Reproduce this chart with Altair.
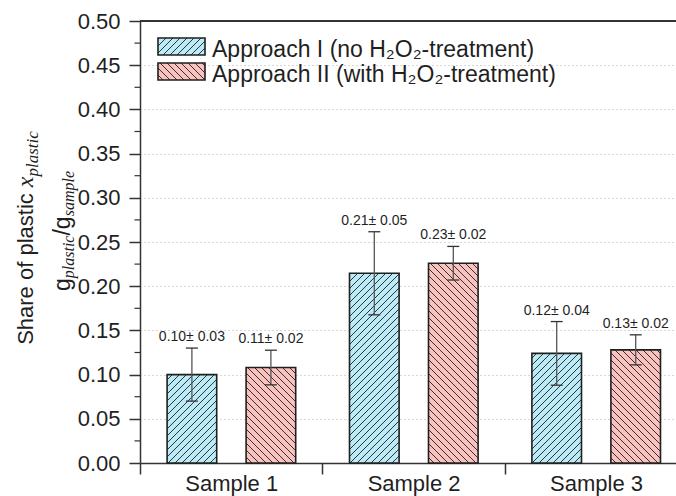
import json
import math

import altair as alt
import pandas as pd

# ---- data -------------------------------------------------------------
samples = ["Sample 1", "Sample 2", "Sample 3"]
approaches = ["Approach I (no H₂O₂-treatment)", "Approach II (with H₂O₂-treatment)"]
share_approach_1 = [0.100, 0.2146, 0.124]
error_approach_1 = [0.030, 0.047, 0.036]
share_approach_2 = [0.108, 0.226, 0.128]
error_approach_2 = [0.0196, 0.019, 0.017]
y_major_ticks = [0.00, 0.05, 0.10, 0.15, 0.20, 0.25, 0.30, 0.35, 0.40, 0.45, 0.50]

# ---- styling / layout -------------------------------------------------
fills = ["#BCEBF8", "#FAC2BF"]
hatch_dirs = [1, -1]           # "/" for approach I, "\" for approach II
INK = "#1f1f1f"
AXIS = "#333333"
SANS = "Liberation Sans"
SERIF = "Liberation Serif"

W, H = 536, 442                 # plot area in px
BAND = 182.4                    # px per sample slot
X_LO = -0.5
X_HI = X_LO + W / BAND
Y_HI = 0.5
VPX = H / Y_HI                  # px per unit of share
GROUP_OFFSETS = [-39.3, 39.7]   # bar centre offset inside a slot (px)
BAR_PX = 49.6
CAP_PX = 6.0
HATCH_PITCH = 7.0


def to_x(px):
    return X_LO + px / BAND


def to_y(py_up):
    return py_up / VPX


def hatch(x0, x1, y0, y1, d, pitch=HATCH_PITCH):
    """45-degree hatch segments clipped to a rectangle (px, y pointing up)."""
    segs = []
    if d > 0:  # Y = X + c
        kmin = math.ceil((y0 - x1) / pitch)
        kmax = math.floor((y1 - x0) / pitch)
        for k in range(kmin, kmax + 1):
            c = k * pitch
            lo, hi = max(x0, y0 - c), min(x1, y1 - c)
            if hi - lo > 0.3:
                segs.append((lo, lo + c, hi, hi + c))
    else:      # Y = -X + c
        kmin = math.ceil((y0 + x0) / pitch)
        kmax = math.floor((y1 + x1) / pitch)
        for k in range(kmin, kmax + 1):
            c = k * pitch
            lo, hi = max(x0, c - y1), min(x1, c - y0)
            if hi - lo > 0.3:
                segs.append((lo, c - lo, hi, c - hi))
    return segs


shares = [share_approach_1, share_approach_2]
errors = [error_approach_1, error_approach_2]

boxes, hatch_rows, err_rows, cap_rows, label_rows = [], [], [], [], []
for i, sample in enumerate(samples):
    for j, approach in enumerate(approaches):
        m, e = shares[j][i], errors[j][i]
        cpx = (i + 0.5) * BAND + GROUP_OFFSETS[j]
        bx0, bx1, by0, by1 = cpx - BAR_PX / 2, cpx + BAR_PX / 2, 0.0, m * VPX
        boxes.append({"approach": approach, "x0": to_x(bx0), "x1": to_x(bx1),
                      "y0": 0.0, "y1": m})
        for a, b, c, d in hatch(bx0, bx1, by0, by1, hatch_dirs[j]):
            hatch_rows.append({"xa": to_x(a), "ya": to_y(b), "xb": to_x(c), "yb": to_y(d)})
        cx = to_x(cpx)
        err_rows.append({"x": cx, "lo": m - e, "hi": m + e})
        for yv in (m - e, m + e):
            cap_rows.append({"xa": to_x(cpx - CAP_PX), "xb": to_x(cpx + CAP_PX), "y": yv})
        label_rows.append({"x": cx, "y": m + e, "label": f"{m:.2f}\u00b1 {e:.2f}"})

# legend entries (box drawn with the same fill / hatch as the bars)
LEG_X0, LEG_X1, LEG_TOP, LEG_H, LEG_STEP = 18, 65, 17, 17, 25
legend_text = []
for j, approach in enumerate(approaches):
    top = LEG_TOP + j * LEG_STEP
    lx0, lx1, ly0, ly1 = LEG_X0, LEG_X1, H - top - LEG_H, H - top
    boxes.append({"approach": approach, "x0": to_x(lx0), "x1": to_x(lx1),
                  "y0": to_y(ly0), "y1": to_y(ly1)})
    for a, b, c, d in hatch(lx0, lx1, ly0, ly1, hatch_dirs[j]):
        hatch_rows.append({"xa": to_x(a), "ya": to_y(b), "xb": to_x(c), "yb": to_y(d)})
    legend_text.append({"label": approach, "x": to_x(LEG_X1 + 7),
                        "y": to_y(H - (top + LEG_H + 1.5))})

boxes = pd.DataFrame(boxes)
hatch_df = pd.DataFrame(hatch_rows)
err_df = pd.DataFrame(err_rows)
cap_df = pd.DataFrame(cap_rows)
label_df = pd.DataFrame(label_rows)
legend_df = pd.DataFrame(legend_text)
minor_df = pd.DataFrame({"y": [(a + b) / 2 for a, b in zip(y_major_ticks, y_major_ticks[1:])]})

XS = alt.Scale(domain=[X_LO, X_HI], nice=False, zero=False)
YS = alt.Scale(domain=[0, Y_HI], nice=False, zero=False)

x_axis = alt.Axis(
    values=[-0.5, 0, 0.5, 1, 1.5, 2],
    labelExpr=f"{json.dumps(samples)}[datum.value] || ''",
    tickOpacity={"condition": {"test": "datum.value % 1 !== 0", "value": 1}, "value": 0},
    tickSize=11, tickWidth=1.5, tickColor=AXIS,
    domainColor=AXIS, domainWidth=1.5,
    labelFont=SANS, labelFontSize=22, labelColor=INK, labelPadding=-1,
    labelFlush=False, labelOverlap=False, grid=False, title=None,
)
y_axis = alt.Axis(
    values=y_major_ticks, format=".2f",
    tickSize=11, tickWidth=1.5, tickColor=AXIS,
    domainColor=AXIS, domainWidth=1.5,
    labelFont=SANS, labelFontSize=22, labelColor=INK, labelPadding=9,
    grid=True, gridDash=[1, 3], gridColor="#b0b0b0", gridWidth=1, title=None,
)


def X(field):
    return alt.X(field, type="quantitative", scale=XS, axis=x_axis)


def Y(field):
    return alt.Y(field, type="quantitative", scale=YS, axis=y_axis)


color = alt.Color("approach:N", scale=alt.Scale(domain=approaches, range=fills), legend=None)

bar_fill = alt.Chart(boxes).mark_rect(strokeWidth=0).encode(
    x=X("x0"), x2="x1", y=Y("y0"), y2="y1", color=color)

hatch_layer = alt.Chart(hatch_df).mark_rule(color=INK, strokeWidth=0.9).encode(
    x=X("xa"), x2="xb", y=Y("ya"), y2="yb")

bar_outline = alt.Chart(boxes).mark_rect(fillOpacity=0, stroke=INK, strokeWidth=1.6).encode(
    x=X("x0"), x2="x1", y=Y("y0"), y2="y1")

err_layer = alt.Chart(err_df).mark_rule(color="#555555", strokeWidth=1.3).encode(
    x=X("x"), y=Y("lo"), y2="hi")

cap_layer = alt.Chart(cap_df).mark_rule(color="#333333", strokeWidth=1.3).encode(
    x=X("xa"), x2="xb", y=Y("y"))

value_labels = alt.Chart(label_df).mark_text(
    font=SANS, fontSize=14, color=INK, baseline="alphabetic", dy=-7).encode(
    x=X("x"), y=Y("y"), text="label:N")

legend_labels = alt.Chart(legend_df).mark_text(
    font=SANS, fontSize=23, color=INK, align="left", baseline="alphabetic").encode(
    x=X("x"), y=Y("y"), text="label:N")

top_frame = alt.Chart(pd.DataFrame({"y": [Y_HI]})).mark_rule(
    color=AXIS, strokeWidth=1.8).encode(y=Y("y"))

minor_ticks = alt.Chart(minor_df).mark_rule(color=AXIS, strokeWidth=1.2).encode(
    x=alt.value(-5.5), x2=alt.value(0), y=Y("y"))

# y-axis title assembled from styled runs (rotated, reading bottom to top)
title_runs = [
    # text, font, size, style, x baseline, subscript shift, advance (em)
    ("Share of plastic ", SANS, 22, "normal", -107, 0, 7.17),
    ("x", SERIF, 24, "italic", -107, 0, 0.444),
    ("plastic", SERIF, 17, "italic", -107, 5, 2.667),
]
title_runs_2 = [
    ("g", SANS, 23, "normal", -70, 0, 0.556),
    ("plastic", SERIF, 16, "italic", -70, 4, 2.667),
    ("/", SANS, 23, "normal", -70, 0, 0.278),
    ("g", SANS, 23, "normal", -70, 0, 0.556),
    ("sample", SERIF, 16, "italic", -70, 4, 2.833),
]

title_layers = []
for runs, centre in ((title_runs, 217), (title_runs_2, 210)):
    total = sum(r[2] * r[6] for r in runs)
    ypos = centre + total / 2
    for text, font, size, style, xb, shift, em in runs:
        title_layers.append(
            alt.Chart(pd.DataFrame({"t": [text]})).mark_text(
                angle=270, align="left", baseline="alphabetic",
                font=font, fontSize=size, fontStyle=style, color=INK,
            ).encode(x=alt.value(xb + shift), y=alt.value(ypos), text="t:N")
        )
        ypos -= size * em

chart = alt.layer(
    bar_fill, hatch_layer, bar_outline, err_layer, cap_layer, value_labels,
    legend_labels, top_frame, minor_ticks, *title_layers,
).properties(
    width=W, height=H,
    autosize=alt.AutoSizeParams(type="none"),
    padding={"left": 140, "top": 21, "right": 0, "bottom": 33},
    background="white",
).configure_view(stroke=None)

chart.save("out.html", embed_options={"renderer": "svg", "actions": False})
